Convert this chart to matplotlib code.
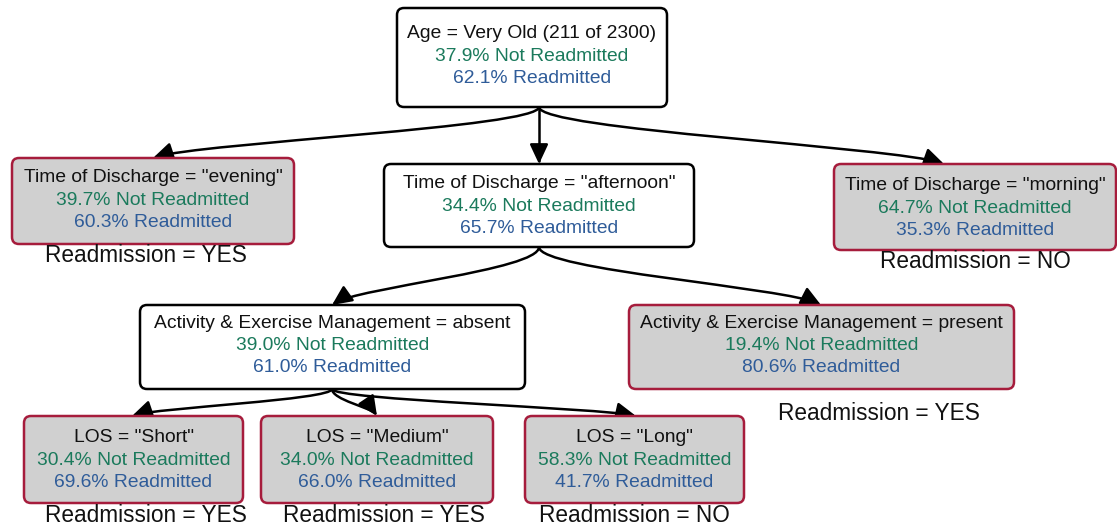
import matplotlib
matplotlib.use("Agg")
import matplotlib.pyplot as plt
from matplotlib.patches import FancyBboxPatch, FancyArrowPatch
from matplotlib.path import Path

plt.rcParams['font.family'] = ['Liberation Sans', 'DejaVu Sans']

# ---- data ----
node_titles = [
    'Age = Very Old (211 of 2300)',
    'Time of Discharge = "evening"',
    'Time of Discharge = "afternoon"',
    'Time of Discharge = "morning"',
    'Activity & Exercise Management = absent',
    'Activity & Exercise Management = present',
    'LOS = "Short"',
    'LOS = "Medium"',
    'LOS = "Long"',
]
not_readmitted = [37.9, 39.7, 34.4, 64.7, 39.0, 19.4, 30.4, 34.0, 58.3]
readmitted = [62.1, 60.3, 65.7, 35.3, 61.0, 80.6, 69.6, 66.0, 41.7]
outcomes = [None, 'YES', None, 'NO', None, 'YES', 'YES', 'YES', 'NO']
edges = [(0, 1), (0, 2), (0, 3), (2, 4), (2, 5), (4, 6), (4, 7), (4, 8)]

# ---- layout (pixels) ----
boxes = [  # left, right, top, bottom
    (397, 667, 8, 107),
    (12, 294, 158, 244),
    (384, 694, 164, 247),
    (834, 1116, 164, 250),
    (140, 525, 305, 389),
    (629, 1014, 305, 389),
    (24, 243, 416, 503),
    (261, 493, 416, 503),
    (525, 744, 416, 503),
]
text_top = [34, 178, 184, 186, 323, 323, 438, 438, 438]
outcome_pos = [None, (146, 256), None, (975, 262), None, (879, 413),
               (146, 515), (384, 515), (634, 515)]
stem_x = {0: 539, 2: 539, 4: 332}
tip_x = {1: 153, 2: 539, 3: 944, 4: 332, 5: 821, 6: 132, 7: 377, 8: 636}

GREEN = '#1b7a5c'
BLUE = '#2f5c99'
RED = '#a61c3c'
GRAY = '#d0d0d0'
FS = 13.9
LINE = 22.3

fig = plt.figure(figsize=(11.17, 5.26), dpi=100)
ax = fig.add_axes([0, 0, 1, 1])
ax.set_xlim(0, 1117)
ax.set_ylim(526, 0)
ax.axis('off')

for i, (l, r, t, b) in enumerate(boxes):
    leaf = outcomes[i] is not None
    p = FancyBboxPatch((l, t), r - l, b - t,
                       boxstyle="round,pad=0,rounding_size=7",
                       fc=GRAY if leaf else 'white',
                       ec=RED if leaf else 'black', lw=1.8, zorder=2)
    ax.add_patch(p)
    cx = (l + r) / 2
    y0 = text_top[i]
    ax.text(cx, y0, node_titles[i], ha='center', va='center', fontsize=FS,
            color='#111111', zorder=3)
    ax.text(cx, y0 + LINE, f'{not_readmitted[i]:.1f}% Not Readmitted', ha='center',
            va='center', fontsize=FS, color=GREEN, zorder=3)
    ax.text(cx, y0 + 2 * LINE, f'{readmitted[i]:.1f}% Readmitted', ha='center',
            va='center', fontsize=FS, color=BLUE, zorder=3)
    if leaf:
        ox, oy = outcome_pos[i]
        ax.text(ox, oy, f'Readmission = {outcomes[i]}', ha='center', va='center',
                fontsize=16.3, color='#111111', zorder=3)

for a, c in edges:
    x0 = stem_x[a]
    y0 = boxes[a][3]
    x3 = tip_x[c]
    y3 = boxes[c][2]
    dy = y3 - y0
    if x0 == x3:
        verts = [(x0, y0), (x3, y3)]
        codes = [Path.MOVETO, Path.LINETO]
    else:
        verts = [(x0, y0), (x0, y0 + 0.4 * dy),
                 (x3 + 0.12 * (x0 - x3), y3 - 0.3 * dy), (x3, y3)]
        codes = [Path.MOVETO, Path.CURVE4, Path.CURVE4, Path.CURVE4]
    arr = FancyArrowPatch(path=Path(verts, codes),
                          arrowstyle='-|>,head_length=0.6,head_width=0.28',
                          mutation_scale=20, color='black', lw=1.8, zorder=1)
    ax.add_patch(arr)

fig.savefig('out.png', dpi=100)
